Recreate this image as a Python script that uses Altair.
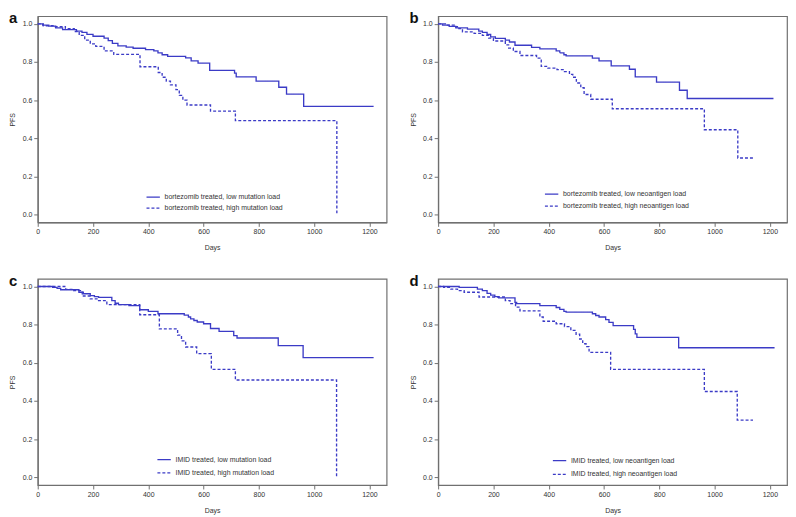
import altair as alt
import pandas as pd

# ---------------- data ----------------
X_TICKS = [0, 200, 400, 600, 800, 1000, 1200]
Y_TICKS = [0.0, 0.2, 0.4, 0.6, 0.8, 1.0]

# panel a: bortezomib, mutation load
a_low_days = [0, 18, 40, 65, 90, 140, 160, 178, 200, 240, 255, 270, 290, 320, 345, 390, 420, 435, 450, 470, 535, 555, 580, 622, 712, 718, 790, 872, 900, 962, 1215]
a_low_surv = [1.0, 0.993, 0.988, 0.979, 0.97, 0.962, 0.955, 0.945, 0.935, 0.925, 0.912, 0.898, 0.885, 0.878, 0.872, 0.865, 0.858, 0.848, 0.838, 0.83, 0.822, 0.806, 0.794, 0.756, 0.742, 0.722, 0.70, 0.668, 0.632, 0.568, 0.568]
a_high_days = [0, 20, 60, 100, 132, 150, 170, 190, 210, 240, 275, 370, 436, 450, 465, 480, 500, 512, 525, 540, 625, 715, 1082]
a_high_surv = [1.0, 0.99, 0.985, 0.975, 0.96, 0.94, 0.915, 0.895, 0.882, 0.858, 0.84, 0.775, 0.745, 0.72, 0.70, 0.68, 0.655, 0.625, 0.60, 0.575, 0.543, 0.493, 0.0]

# panel b: bortezomib, neoantigen load
b_low_days = [0, 16, 40, 64, 106, 147, 160, 177, 190, 207, 243, 258, 278, 338, 368, 427, 440, 455, 463, 558, 582, 626, 692, 713, 790, 873, 901, 1213]
b_low_surv = [1.0, 0.993, 0.987, 0.979, 0.972, 0.962, 0.955, 0.945, 0.932, 0.924, 0.915, 0.905, 0.888, 0.877, 0.869, 0.858, 0.848, 0.838, 0.832, 0.82, 0.806, 0.78, 0.762, 0.722, 0.695, 0.652, 0.609, 0.609]
b_high_days = [0, 30, 58, 75, 88, 130, 160, 183, 200, 243, 255, 272, 296, 356, 373, 397, 430, 457, 475, 487, 500, 516, 528, 552, 630, 963, 1084, 1139]
b_high_surv = [1.0, 0.993, 0.985, 0.975, 0.958, 0.95, 0.94, 0.925, 0.91, 0.89, 0.873, 0.855, 0.834, 0.82, 0.777, 0.768, 0.76, 0.75, 0.735, 0.72, 0.69, 0.665, 0.63, 0.605, 0.555, 0.445, 0.297, 0.297]

# panel c: IMID, mutation load
c_low_days = [0, 54, 70, 83, 149, 165, 190, 205, 220, 268, 280, 292, 330, 369, 400, 435, 530, 545, 553, 565, 577, 600, 625, 656, 709, 721, 870, 960, 1215]
c_low_surv = [1.0, 0.995, 0.99, 0.983, 0.97, 0.962, 0.952, 0.947, 0.943, 0.926, 0.912, 0.905, 0.9, 0.878, 0.87, 0.857, 0.85, 0.84, 0.83, 0.822, 0.814, 0.805, 0.78, 0.765, 0.743, 0.73, 0.69, 0.627, 0.627]
c_high_days = [0, 101, 130, 161, 190, 220, 250, 369, 440, 506, 520, 535, 575, 628, 715, 1081]
c_high_surv = [1.0, 0.985, 0.978, 0.95, 0.935, 0.926, 0.905, 0.852, 0.778, 0.745, 0.715, 0.683, 0.648, 0.566, 0.51, 0.0]

# panel d: IMID, neoantigen load
d_low_days = [0, 76, 142, 160, 177, 190, 205, 219, 278, 284, 368, 427, 440, 455, 463, 558, 570, 582, 606, 618, 633, 707, 713, 719, 870, 1217]
d_low_surv = [1.0, 0.995, 0.986, 0.978, 0.964, 0.955, 0.947, 0.94, 0.917, 0.91, 0.9, 0.89, 0.88, 0.87, 0.866, 0.857, 0.848, 0.84, 0.826, 0.812, 0.795, 0.775, 0.752, 0.733, 0.679, 0.679]
d_high_days = [0, 20, 46, 70, 94, 148, 243, 260, 280, 296, 368, 380, 427, 457, 480, 499, 512, 523, 535, 546, 624, 963, 1082, 1139]
d_high_surv = [1.0, 0.995, 0.986, 0.978, 0.97, 0.945, 0.926, 0.91, 0.892, 0.872, 0.84, 0.818, 0.805, 0.79, 0.77, 0.75, 0.725, 0.70, 0.685, 0.655, 0.566, 0.45, 0.30, 0.30]

LABELS = {
    "a": ["bortezomib treated, low mutation load", "bortezomib treated, high mutation load"],
    "b": ["bortezomib treated, low neoantigen load", "bortezomib treated, high neoantigen load"],
    "c": ["IMID treated, low mutation load", "IMID treated, high mutation load"],
    "d": ["IMID treated, low neoantigen load", "IMID treated, high neoantigen load"],
}

# ---------------- styling ----------------
LINE_COLOR = "#3b3bc6"
FRAME = "#707070"
TEXT = "#333333"
FONT = "Liberation Sans"
W, H = 352, 208


def panel(letter, dl, sl, dh, sh, lx, ly, rowpad):
    lo, hi = LABELS[letter]
    df = pd.DataFrame({
        "day": dl + dh,
        "surv": sl + sh,
        "series": [lo] * len(dl) + [hi] * len(dh),
    })
    lines = alt.Chart(df).mark_line(
        interpolate="step-after", color=LINE_COLOR, strokeWidth=1.35
    ).encode(
        x=alt.X("day:Q",
                scale=alt.Scale(domain=[0, 1262], nice=False, zero=False),
                axis=alt.Axis(values=X_TICKS, format="d", title="Days",
                              labelFlush=False, labelPadding=1.5, titlePadding=9)),
        y=alt.Y("surv:Q",
                scale=alt.Scale(domain=[-0.04, 1.04], nice=False, zero=False),
                axis=alt.Axis(values=Y_TICKS, format=".1f", title="PFS",
                              labelPadding=2, titlePadding=6.5)),
        strokeDash=alt.StrokeDash(
            "series:N",
            scale=alt.Scale(domain=[lo, hi], range=[[1, 0], [3, 2]]),
            legend=alt.Legend(title=None, orient="none", legendX=lx, legendY=ly,
                              rowPadding=rowpad),
        ),
    )
    tag = alt.Chart(pd.DataFrame({"t": [letter]})).mark_text(
        align="left", baseline="top", fontSize=15, fontWeight="bold",
        font=FONT, color="#111111"
    ).encode(text="t:N", x=alt.value(-29), y=alt.value(-5))
    return alt.layer(lines, tag).properties(width=W, height=H)


pa = panel("a", a_low_days, a_low_surv, a_high_days, a_high_surv, 109, 175, 0.1)
pb = panel("b", b_low_days, b_low_surv, b_high_days, b_high_surv, 107, 172, 1.2)
pc = panel("c", c_low_days, c_low_surv, c_high_days, c_high_surv, 120, 175, 2.2)
pd_ = panel("d", d_low_days, d_low_surv, d_high_days, d_high_surv, 115, 176, 2.8)

chart = alt.concat(
    pa, pb, pc, pd_, columns=2,
    spacing={"row": 57, "column": 52}, bounds="flush"
).resolve_scale(
    strokeDash="independent", x="independent", y="independent"
).resolve_legend(
    strokeDash="independent"
).properties(
    padding=0
).configure_view(
    stroke=FRAME, strokeWidth=1.2
).configure_axis(
    domainColor=FRAME, domainWidth=1.2, tickColor=FRAME, tickSize=4, grid=False,
    labelFont=FONT, labelFontSize=7, labelColor=TEXT,
    titleFont=FONT, titleFontSize=7, titleFontWeight="normal", titleColor=TEXT,
).configure_legend(
    labelFont=FONT, labelFontSize=7, labelColor=TEXT, labelLimit=400,
    symbolType="stroke", symbolSize=182, symbolStrokeWidth=1.3,
    symbolStrokeColor=LINE_COLOR, padding=0, labelOffset=4,
)

chart.save("out.html", embed_options={"renderer": "svg", "actions": False})
